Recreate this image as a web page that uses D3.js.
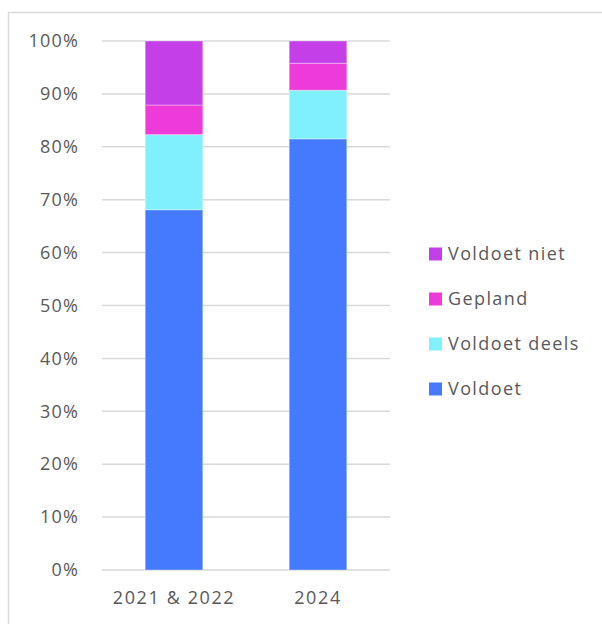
<!DOCTYPE html>
<meta charset="utf-8">
<head>
  <title>Stacked bars</title>
</head>
<style>
  body { margin: 0; background: #fff; }
  text { font-family: "Open Sans", "Noto Sans", sans-serif; fill: #595959; }
</style>
<body>
  <div id="chart"></div>
  <script src="https://d3js.org/d3.v7.min.js"></script>
  <script>

  // data
  var categories = ["2021 & 2022", "2024"];
  var seriesNames = ["Voldoet", "Voldoet deels", "Gepland", "Voldoet niet"];
  var voldoet      = [68.1, 81.5];
  var voldoetDeels = [14.2, 9.2];
  var gepland      = [5.6, 5.1];
  var voldoetNiet  = [12.1, 4.2];
  var yTicks = [0, 10, 20, 30, 40, 50, 60, 70, 80, 90, 100];
  var colors = ["#467afe", "#80f0fe", "#ee3ad9", "#c43fe8"];

  var table = categories.map(function(c, i) {
    return { cat: c, "Voldoet": voldoet[i], "Voldoet deels": voldoetDeels[i],
             "Gepland": gepland[i], "Voldoet niet": voldoetNiet[i] };
  });

  var W = 602, H = 624;
  var margin = {top: 41, left: 102},
      width = 288, height = 529;

  var svg = d3.select("#chart").append("svg")
      .attr("width", W).attr("height", H);

  // outer frame
  svg.append("rect")
      .attr("x", 8.5).attr("y", 12.5)
      .attr("width", 700).attr("height", 700)
      .attr("fill", "none").attr("stroke", "#d9d9d9").attr("stroke-width", 1.5);

  var g = svg.append("g")
      .attr("transform", "translate(" + margin.left + "," + margin.top + ")");

  var x = d3.scaleBand().domain(categories).range([0, width]).paddingInner(0.6).paddingOuter(0.3);
  var y = d3.scaleLinear().domain([0, 100]).range([height, 0]);
  var color = d3.scaleOrdinal().domain(seriesNames).range(colors);

  // gridlines
  g.selectAll(".grid").data(yTicks).enter().append("line")
      .attr("x1", 0).attr("x2", width)
      .attr("y1", function(d) { return y(d); })
      .attr("y2", function(d) { return y(d); })
      .attr("stroke", "#d9d9d9").attr("stroke-width", 1.5);

  // y axis labels
  var yAxis = g.append("g")
      .call(d3.axisLeft(y).tickValues(yTicks).tickSize(0).tickPadding(23)
        .tickFormat(function(d) { return d + "%"; }));
  yAxis.select(".domain").remove();
  yAxis.selectAll("text").style("font-size", "18px").style("letter-spacing", "1.2px").attr("fill", "#595959");

  // bars
  var stacked = d3.stack().keys(seriesNames)(table);
  g.selectAll(".series").data(stacked).enter().append("g")
      .attr("fill", function(d) { return color(d.key); })
    .selectAll("rect").data(function(d) { return d; }).enter().append("rect")
      .attr("x", function(d) { return x(d.data.cat); })
      .attr("y", function(d) { return y(d[1]); })
      .attr("width", x.bandwidth())
      .attr("height", function(d) { return y(d[0]) - y(d[1]); })
      .attr("stroke", "#ffffff").attr("stroke-opacity", 0.35).attr("stroke-width", 1);

  // x axis labels
  var xAxis = g.append("g")
      .attr("transform", "translate(0," + height + ")")
      .call(d3.axisBottom(x).tickSize(0).tickPadding(21));
  xAxis.select(".domain").remove();
  xAxis.selectAll("text").style("font-size", "18px").style("letter-spacing", "1.6px").attr("fill", "#595959");

  // legend
  var legendNames = seriesNames.slice().reverse();
  var legend = svg.append("g").attr("transform", "translate(429,254)");
  var item = legend.selectAll(".item").data(legendNames).enter().append("g")
      .attr("transform", function(d, i) { return "translate(0," + (i * 45) + ")"; });
  item.append("rect")
      .attr("x", 0).attr("y", -6.5).attr("width", 13).attr("height", 13)
      .attr("fill", function(d) { return color(d); });
  item.append("text")
      .attr("x", 19).attr("y", 0).attr("dy", "0.35em")
      .style("font-size", "18px").style("letter-spacing", "1.4px")
      .text(function(d) { return d; });

  </script>
</body>
</html>
